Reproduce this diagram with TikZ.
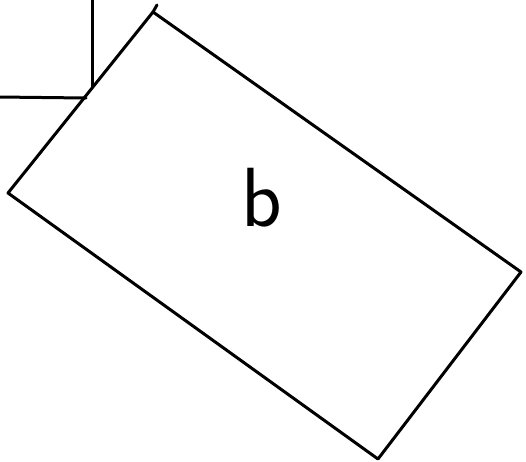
\documentclass[tikz,border=0pt]{standalone}
\usepackage{tikz}
\usetikzlibrary{positioning}

\begin{document}
\begin{tikzpicture}[x=1pt, y=-1pt, line width=3pt, line join=round, line cap=round]

  \useasboundingbox (0,0) rectangle (526,461);

  % Corners
  \coordinate (top) at (153,12);
  \coordinate (right) at (521,272);
  \coordinate (bottom) at (378,459);
  \coordinate (left) at (8,193);
  \coordinate (vtop) at (92,-2);
  \coordinate (vfoot) at (92,87);
  \coordinate (hleft) at (-2,97);
  \coordinate (hfoot) at (86,98);

  % Nodes
  \node[font=\sffamily\fontsize{84}{90}\selectfont, inner sep=0pt] (label) at (262,198) {b};

  % Lines
  \draw (top) -- (right) -- (bottom) -- (left) -- cycle;
  \draw (top) -- (157,5);
  \draw (vtop) -- (vfoot);
  \draw (hleft) -- (hfoot);

\end{tikzpicture}
\end{document}
